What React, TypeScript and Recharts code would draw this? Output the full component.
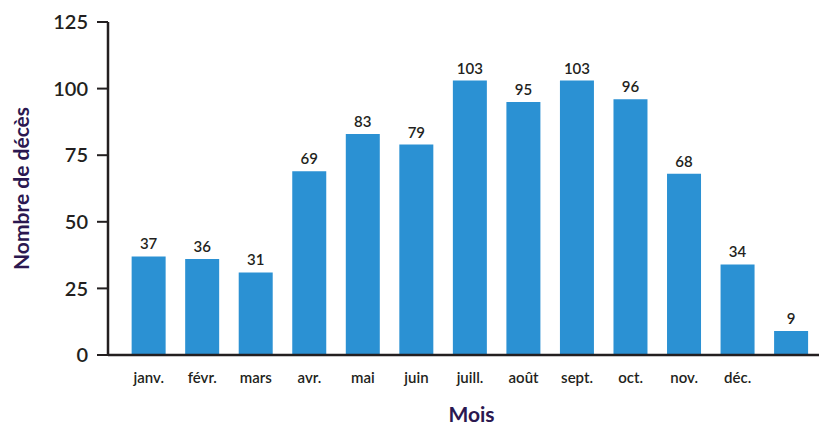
import React from 'react';
import { BarChart, Bar, XAxis, YAxis, LabelList, Label } from 'recharts';

// Months (the 13th bar has no label in the source)
const MONTHS = ['janv.', 'févr.', 'mars', 'avr.', 'mai', 'juin', 'juill.', 'août', 'sept.', 'oct.', 'nov.', 'déc.', ''];
const DEATHS = [37, 36, 31, 69, 83, 79, 103, 95, 103, 96, 68, 34, 9];
const Y_TICKS = [0, 25, 50, 75, 100, 125];

const FONT = 'Lato, "Noto Sans", sans-serif';
const INK = '#231f20';
const PURPLE = '#2b1850';
const BAR = '#2b91d3';

const data = MONTHS.map((month, i) => ({ month, deaths: DEATHS[i] }));

const App: React.FC = () => {
  return (
    <div style={{ margin: '-8px 0 0 -8px', width: 827, height: 428 }}>
      <BarChart
        width={827}
        height={428}
        data={data}
        margin={{ top: 22, right: 0, bottom: 0, left: 0 }}
        barCategoryGap="18%"
      >
        <XAxis
          dataKey="month"
          height={73}
          tickLine={false}
          tickSize={0}
          tickMargin={17}
          padding={{ left: 14, right: 9 }}
          axisLine={{ stroke: INK, strokeWidth: 2.5 }}
          tick={{ fill: INK, fontSize: 15, fontFamily: FONT, fontWeight: 600 }}
          interval={0}
        >
          <Label
            content={({ viewBox }: any) => (
              <text
                x={viewBox.x + viewBox.width / 2 + 4}
                y={viewBox.y + 67}
                textAnchor="middle"
                fill={PURPLE}
                fontSize={21}
                fontWeight={700}
                fontFamily={FONT}
              >
                Mois
              </text>
            )}
          />
        </XAxis>
        <YAxis
          width={108}
          domain={[0, 125]}
          ticks={Y_TICKS}
          tickSize={11}
          tickMargin={9}
          axisLine={{ stroke: INK, strokeWidth: 2.5 }}
          tickLine={{ stroke: INK, strokeWidth: 2 }}
          tick={{ fill: INK, fontSize: 20, fontFamily: FONT, fontWeight: 600 }}
        >
          <Label
            content={({ viewBox }: any) => {
              const cx = 29;
              const cy = viewBox.y + viewBox.height / 2;
              return (
                <text
                  x={cx}
                  y={cy}
                  transform={`rotate(-90 ${cx} ${cy})`}
                  textAnchor="middle"
                  fill={PURPLE}
                  fontSize={21}
                  fontWeight={700}
                  fontFamily={FONT}
                >
                  Nombre de décès
                </text>
              );
            }}
          />
        </YAxis>
        <Bar dataKey="deaths" fill={BAR} isAnimationActive={false}>
          <LabelList
            dataKey="deaths"
            position="top"
            offset={7}
            fill={INK}
            fontSize={15}
            fontWeight={600}
            fontFamily={FONT}
          />
        </Bar>
      </BarChart>
    </div>
  );
};

export default App;
